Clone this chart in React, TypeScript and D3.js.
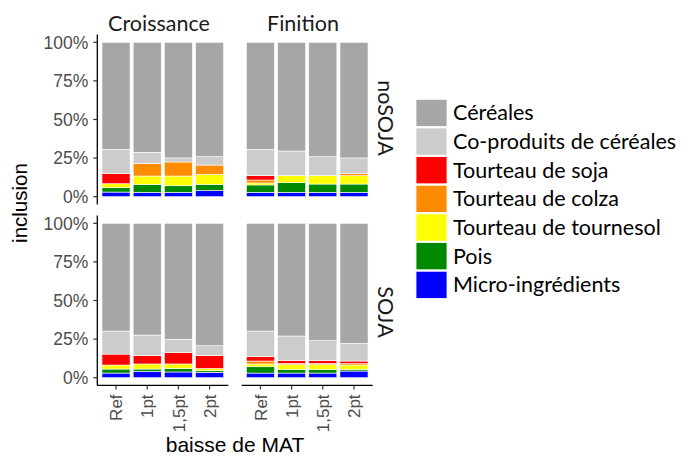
import React from "react";
import * as d3 from "d3";

// bar categories (x axis), facets
const levels = ["Ref", "1pt", "1,5pt", "2pt"];
const phases = ["Croissance", "Finition"];
const regimes = ["noSOJA", "SOJA"];

// ingredients, bottom of stack first
const ingredients = [
  "Micro-ingrédients",
  "Pois",
  "Tourteau de tournesol",
  "Tourteau de colza",
  "Tourteau de soja",
  "Co-produits de céréales",
  "Céréales",
];
const colors = ["#0000ff", "#008800", "#ffff00", "#ff8c00", "#ff0000", "#cccccc", "#a6a6a6"];

// % inclusion, order: noSOJA-Croissance, noSOJA-Finition, SOJA-Croissance, SOJA-Finition (4 bars each)
const micro = [3.0, 2.8, 2.8, 3.9, 2.8, 2.8, 2.8, 2.8, 3.0, 4.1, 3.7, 3.5, 3.0, 3.0, 3.0, 4.3];
const pois = [2.8, 5.2, 4.3, 4.1, 4.8, 6.3, 5.4, 5.4, 2.6, 1.5, 2.3, 1.0, 4.1, 2.4, 2.4, 1.1];
const tournesol = [2.6, 5.4, 6.3, 6.5, 1.3, 4.5, 5.4, 5.4, 2.6, 3.3, 2.9, 1.5, 1.8, 3.0, 3.0, 2.8];
const colza = [0, 8.2, 9.1, 6.0, 1.9, 0, 0, 1.3, 0, 0, 0, 0, 1.9, 0.8, 0.8, 0.9];
const soja = [6.7, 0, 0, 0, 2.8, 0, 0, 0, 7.1, 5.4, 7.3, 8.3, 2.8, 1.8, 1.8, 1.7];
const coprod = [15.6, 7.1, 2.6, 5.4, 17.1, 16.0, 12.3, 10.2, 14.9, 13.3, 8.6, 6.4, 16.6, 16.0, 13.0, 11.4];
const cereales = [69.3, 71.3, 74.9, 74.1, 69.3, 70.4, 74.1, 74.9, 69.8, 72.4, 75.2, 79.3, 69.8, 73.0, 76.0, 77.8];

const series = [micro, pois, tournesol, colza, soja, coprod, cereales];
const yTicks = [0, 0.25, 0.5, 0.75, 1];

const W = 700;
const H = 458;
const colX = [[97.3, 228.3], [241.7, 372.7]];
const rowY = [[196.7, 42.3], [377.7, 223.3]];
const expand = 0.05;
const sansFont = "Liberation Sans, Arial, sans-serif";
const labelFont = "Lato, sans-serif";

const App: React.FC = () => {
  const panels: React.ReactNode[] = [];

  regimes.forEach((reg, ri) => {
    const y = d3.scaleLinear().domain([0, 1]).range(rowY[ri]);
    const yTop = y(1 + expand);
    const yBot = y(-expand);

    phases.forEach((ph, ci) => {
      const pi = ri * 2 + ci;
      const x = d3.scaleBand().domain(levels).range(colX[ci]).paddingInner(0.1).paddingOuter(0.15);
      const rows = levels.map((lv, li) => {
        const r: Record<string, number | string> = { level: lv };
        ingredients.forEach((ing, k) => {
          r[ing] = series[k][pi * 4 + li] / 100;
        });
        return r;
      });
      const stacked = d3.stack<Record<string, number | string>>().keys(ingredients)(rows as any);

      panels.push(
        <g key={`${reg}-${ph}`}>
          {stacked.map((s, k) =>
            s.map((d, li) => (
              <rect
                key={`${k}-${li}`}
                x={x(levels[li])}
                y={y(d[1])}
                width={x.bandwidth()}
                height={Math.max(0, y(d[0]) - y(d[1]))}
                fill={colors[k]}
                stroke="#ffffff"
                strokeWidth={0.6}
              />
            ))
          )}
          {ci === 0 && (
            <g>
              <line x1={colX[0][0]} x2={colX[0][0]} y1={yTop} y2={yBot} stroke="#000" strokeWidth={1.3} />
              {yTicks.map((t) => (
                <g key={t}>
                  <line x1={colX[0][0] - 4} x2={colX[0][0]} y1={y(t)} y2={y(t)} stroke="#333" strokeWidth={1.2} />
                  <text
                    x={colX[0][0] - 9}
                    y={y(t)}
                    dy="0.36em"
                    textAnchor="end"
                    fontFamily={sansFont}
                    fontSize={17.5}
                    fill="#4d4d4d"
                  >
                    {d3.format(".0%")(t)}
                  </text>
                </g>
              ))}
            </g>
          )}
          {ri === 1 && (
            <g>
              <line x1={colX[ci][0]} x2={colX[ci][1]} y1={yBot} y2={yBot} stroke="#000" strokeWidth={1.3} />
              {levels.map((lv) => {
                const cx = (x(lv) ?? 0) + x.bandwidth() / 2;
                return (
                  <g key={lv}>
                    <line x1={cx} x2={cx} y1={yBot} y2={yBot + 4} stroke="#333" strokeWidth={1.2} />
                    <text
                      transform={`translate(${cx},${yBot + 9}) rotate(-90)`}
                      dy="0.36em"
                      textAnchor="end"
                      fontFamily={sansFont}
                      fontSize={17}
                      fill="#4d4d4d"
                    >
                      {lv}
                    </text>
                  </g>
                );
              })}
            </g>
          )}
        </g>
      );
    });
  });

  const legendY = d3.scaleBand().domain([...ingredients].reverse()).range([99.3, 99.3 + 28.45 * 7]).paddingInner(0.05);

  return (
    <svg width={W} height={H} style={{ position: "absolute", left: 0, top: 0, background: "#fff" }}>
      {panels}

      {/* strip labels */}
      <text x={159} y={30.5} textAnchor="middle" fontFamily={labelFont} fontSize={21.5} fill="#1a1a1a">
        {phases[0]}
      </text>
      <text x={303} y={30.5} textAnchor="middle" fontFamily={labelFont} fontSize={21.5} fill="#1a1a1a">
        {phases[1]}
      </text>
      <text transform="translate(378,118) rotate(90)" textAnchor="middle" fontFamily={labelFont} fontSize={21.5} fill="#1a1a1a">
        {regimes[0]}
      </text>
      <text transform="translate(378,312) rotate(90)" textAnchor="middle" fontFamily={labelFont} fontSize={21.5} fill="#1a1a1a">
        {regimes[1]}
      </text>

      {/* axis titles */}
      <text transform="translate(27,203) rotate(-90)" textAnchor="middle" fontFamily={sansFont} fontSize={20.5} fill="#000">
        inclusion
      </text>
      <text x={235} y={452} textAnchor="middle" fontFamily={sansFont} fontSize={21} fill="#000">
        baisse de MAT
      </text>

      {/* legend */}
      {[...ingredients].reverse().map((ing) => {
        const k = ingredients.indexOf(ing);
        const ky = legendY(ing) ?? 0;
        return (
          <g key={ing}>
            <rect x={416} y={ky} width={31} height={legendY.bandwidth()} fill={colors[k]} stroke="#ffffff" strokeWidth={0.8} />
            <text x={453} y={ky + legendY.bandwidth() / 2} dy="0.35em" fontFamily={labelFont} fontSize={21.5} fill="#000">
              {ing}
            </text>
          </g>
        );
      })}
    </svg>
  );
};

export default App;
